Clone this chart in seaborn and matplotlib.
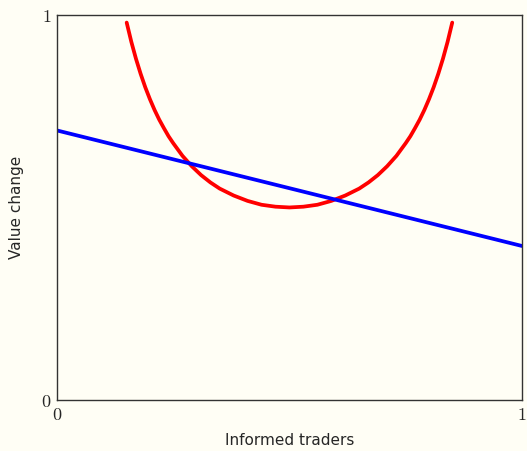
import matplotlib
matplotlib.use("Agg")
import matplotlib.pyplot as plt
import pandas as pd
import seaborn as sns

# Red U-shaped curve
red_x = [0.15, 0.16, 0.17, 0.18, 0.19, 0.20, 0.21, 0.22, 0.23, 0.24, 0.25, 0.27, 0.29,
         0.31, 0.33, 0.35, 0.38, 0.41, 0.44, 0.47, 0.50, 0.53, 0.56, 0.59, 0.62, 0.65,
         0.67, 0.69, 0.71, 0.73, 0.75, 0.76, 0.77, 0.78, 0.79, 0.80, 0.81, 0.82, 0.83,
         0.84, 0.85]
red_y = [0.980, 0.930, 0.886, 0.847, 0.812, 0.781, 0.753, 0.728, 0.706, 0.685, 0.667, 0.634, 0.607,
         0.584, 0.565, 0.549, 0.531, 0.517, 0.507, 0.502, 0.500, 0.502, 0.507, 0.517, 0.531, 0.549,
         0.565, 0.584, 0.607, 0.634, 0.667, 0.685, 0.706, 0.728, 0.753, 0.781, 0.812, 0.847, 0.886,
         0.930, 0.980]

# Blue straight line
blue_x = [0.0, 1.0]
blue_y = [0.70, 0.40]

x_ticks = [0, 1]
y_ticks = [0, 1]

sns.set_style("white")
plt.rcParams["mathtext.fontset"] = "cm"
plt.rcParams["font.family"] = ["DejaVu Sans"]

bg = "#fffef5"
fig = plt.figure(figsize=(5.27, 4.51), dpi=100, facecolor=bg)
ax = fig.add_axes([0.108, 0.113, 0.8825, 0.854], facecolor=bg)

red = pd.DataFrame({"x": red_x, "y": red_y})
blue = pd.DataFrame({"x": blue_x, "y": blue_y})
sns.lineplot(data=red, x="x", y="y", sort=False, color="#ff0000", linewidth=2.7,
             solid_joinstyle="round", ax=ax)
sns.lineplot(data=blue, x="x", y="y", sort=False, color="#0000ff", linewidth=2.7, ax=ax)

ax.set_xlim(0, 1)
ax.set_ylim(0, 1)
ax.set_xticks(x_ticks)
ax.set_yticks(y_ticks)
ax.set_xticklabels([f"${t}$" for t in x_ticks], fontsize=13)
ax.set_yticklabels([f"${t}$" for t in y_ticks], fontsize=13)
ax.tick_params(length=0, pad=4)
ax.set_xlabel("Informed traders", fontsize=11, labelpad=7)
ax.set_ylabel("Value change", fontsize=11, labelpad=12)
for s in ax.spines.values():
    s.set_visible(True)
    s.set_color("#333333")
    s.set_linewidth(1.0)

fig.savefig("out.png", dpi=100, facecolor=bg)
